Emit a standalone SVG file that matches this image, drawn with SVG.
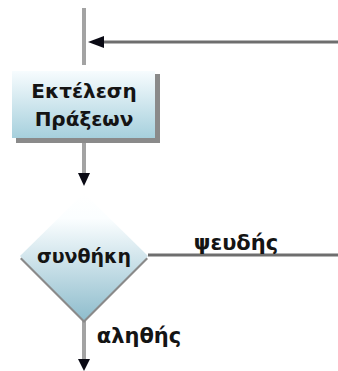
<svg xmlns="http://www.w3.org/2000/svg" width="338" height="371" viewBox="0 0 338 371">
<style>
.t{font-family:"DejaVu Sans","Liberation Sans",sans-serif;font-weight:bold;fill:#141414;text-anchor:middle}
.vl{stroke:#a3a3a3;stroke-width:4;fill:none}
.hl{stroke:#6e6e6e;stroke-width:3;fill:none}
.ah{fill:#0a0a14}
.sh{fill:#8a8a8a}
</style>
<defs>
<linearGradient id="gb" x1="0" y1="0" x2="0" y2="1">
<stop offset="0" stop-color="#f7fcfe"/>
<stop offset="1" stop-color="#a6d0dd"/>
</linearGradient>
<linearGradient id="gd" x1="0" y1="0" x2="0" y2="1">
<stop offset="0" stop-color="#ffffff"/>
<stop offset="0.2" stop-color="#fbfeff"/>
<stop offset="1" stop-color="#8fbdcd"/>
</linearGradient>
</defs>
<g id="connectors">
<line class="vl" x1="84" y1="8" x2="84" y2="65"/>
<line class="hl" x1="100" y1="42" x2="338" y2="42"/>
<polygon class="ah" points="88,42 104,36 104,48"/>
<line class="vl" x1="84" y1="140" x2="84" y2="176"/>
<polygon class="ah" points="78,173 90,173 84,186"/>
<line class="hl" x1="148" y1="255" x2="338" y2="255"/>
<line class="vl" x1="84" y1="320" x2="84" y2="362"/>
<polygon class="ah" points="78,359 90,359 84,371"/>
<text class="t" x="236" y="250" font-size="21">ψευδής</text>
<text class="t" x="139" y="343" font-size="21">αληθής</text>
</g>
<g id="action">
<rect class="sh" x="16" y="74" width="144" height="69"/>
<rect x="12" y="71" width="143" height="67" fill="url(#gb)"/>
<text class="t" x="84" y="98" font-size="20">Εκτέλεση</text>
<text class="t" x="84" y="126" font-size="20">Πράξεων</text>
</g>
<g id="condition">
<polygon class="sh" points="84,196 148,259 84,323 20,259"/>
<polygon points="84,193 148,256 84,320 20,256" fill="url(#gd)"/>
<text class="t" x="84" y="263" font-size="19">συνθήκη</text>
</g>
</svg>
